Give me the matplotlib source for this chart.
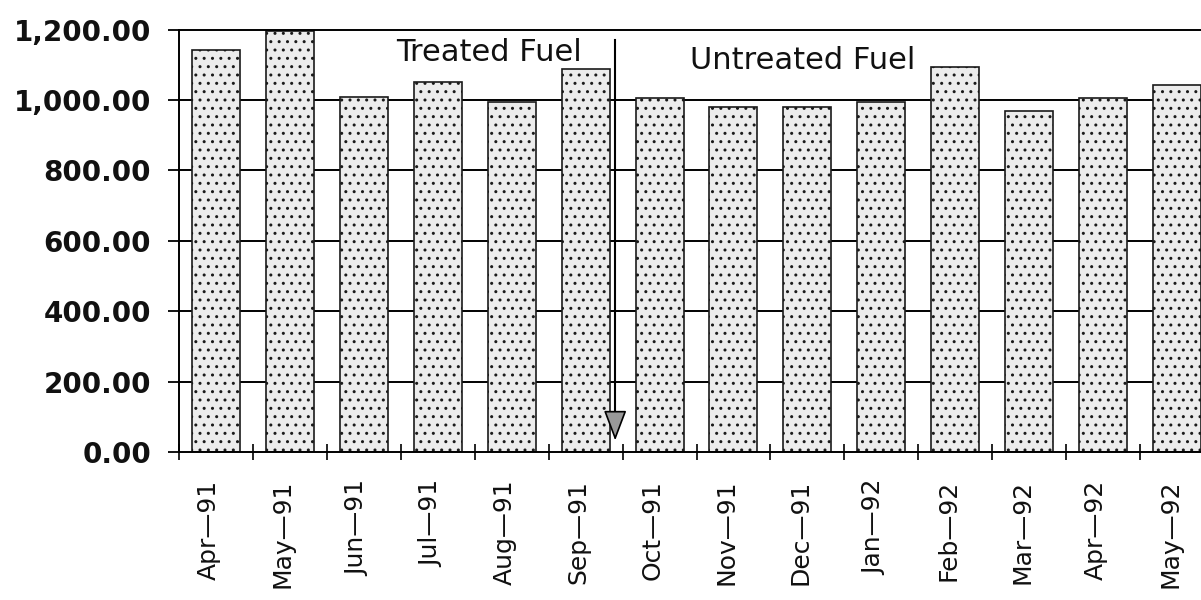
import matplotlib
matplotlib.use("Agg")
import matplotlib.pyplot as plt
import matplotlib.transforms as mtransforms
import numpy as np

months = ["Apr—91", "May—91", "Jun—91", "Jul—91", "Aug—91", "Sep—91", "Oct—91",
          "Nov—91", "Dec—91", "Jan—92", "Feb—92", "Mar—92", "Apr—92", "May—92"]
values = [1142, 1195, 1009, 1052, 995, 1087, 1005, 981, 981, 995, 1095, 969, 1005, 1043]
yticks = [0, 200, 400, 600, 800, 1000, 1200]
ytick_labels = ["0.00", "200.00", "400.00", "600.00", "800.00", "1,000.00", "1,200.00"]
divider_x = 5.4

plt.rcParams['hatch.linewidth'] = 1.0

fig = plt.figure(figsize=(12.01, 6.0), dpi=100)
ax = fig.add_axes([179 / 1201, 1 - 452 / 600, (1214 - 179) / 1201, (452 - 29.6) / 600])

x = np.arange(len(months))
# grid lines behind the bars
for v in yticks[1:-1]:
    ax.axhline(v, color='black', lw=1.4, zorder=1)

ax.bar(x, values, width=0.65, color='#ececec', edgecolor='#1a1a1a', hatch='..',
       linewidth=1.2, zorder=2)

ax.set_xlim(-0.5, len(months) - 0.5)
ax.set_ylim(0, 1200)

ax.set_yticks(yticks)
ax.set_yticklabels(ytick_labels, fontsize=20, fontweight='bold', color='#111')
ax.tick_params(axis='y', direction='out', length=8, width=1.3, pad=12)

ax.set_xticks(x)
ax.set_xticklabels(months, rotation=90, fontsize=18, color='#111')
ax.tick_params(axis='x', which='major', length=0, pad=20)
ax.set_xticks(np.arange(len(months) + 1) - 0.5, minor=True)
ax.tick_params(axis='x', which='minor', direction='inout', length=12, width=1.2)
offset = mtransforms.ScaledTranslation(-7 / 100, 0, fig.dpi_scale_trans)
for lab in ax.get_xticklabels():
    lab.set_transform(lab.get_transform() + offset)

for s in ['left', 'bottom', 'top']:
    ax.spines[s].set_linewidth(1.4)
    ax.spines[s].set_color('black')
ax.spines['right'].set_visible(False)

# treated / untreated divider
ax.plot([divider_x, divider_x], [1170, 60], color='black', lw=1.5, zorder=3)
ax.annotate('', xy=(divider_x, 25), xytext=(divider_x, 100),
            arrowprops=dict(arrowstyle='-|>,head_length=0.95,head_width=0.36',
                            fc='#999999', ec='black', lw=1.2, mutation_scale=20),
            zorder=4)

ax.text(2.44, 1136, "Treated Fuel", fontsize=22, ha='left', va='center', color='#111', zorder=5)
ax.text(6.41, 1111, "Untreated Fuel", fontsize=22, ha='left', va='center', color='#111', zorder=5,
        bbox=dict(facecolor='white', edgecolor='none', pad=1))

fig.savefig("out.png", dpi=100)
